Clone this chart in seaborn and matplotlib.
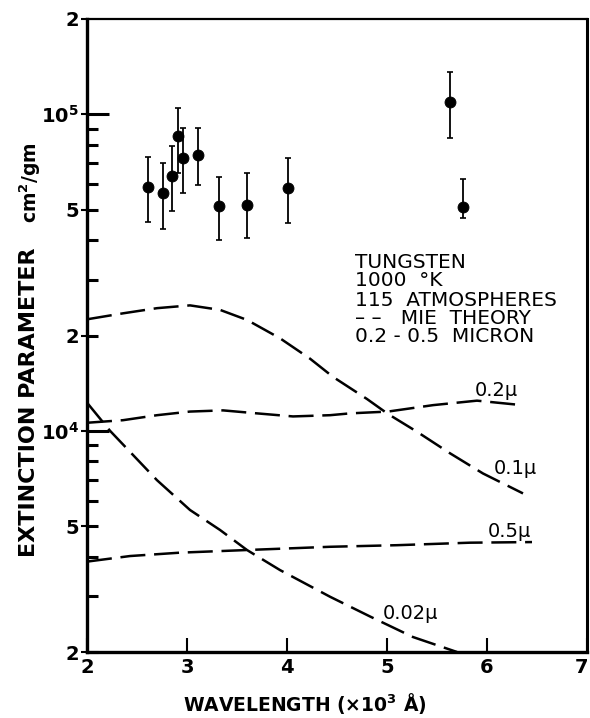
import matplotlib
matplotlib.use("Agg")
import matplotlib.pyplot as plt
import matplotlib.transforms as mtransforms
import seaborn as sns
import numpy as np
from matplotlib.ticker import FixedLocator, FixedFormatter, NullFormatter

# ---- data ----
wl_pts = [2.61, 2.76, 2.85, 2.91, 2.96, 3.11, 3.32, 3.60, 4.01, 5.63, 5.76]
ext_pts = [5.9e4, 5.62e4, 6.4e4, 8.56e4, 7.26e4, 7.43e4, 5.13e4, 5.17e4, 5.87e4, 1.09e5, 5.08e4]
err_hi = [7.35e4, 7.03e4, 7.96e4, 1.05e5, 9.07e4, 9.07e4, 6.35e4, 6.5e4, 7.3e4, 1.36e5, 6.23e4]
err_lo = [4.56e4, 4.33e4, 4.95e4, 6.5e4, 5.65e4, 5.97e4, 4.01e4, 4.07e4, 4.54e4, 8.4e4, 4.69e4]

wl_01 = [2.0, 2.36, 2.70, 3.03, 3.33, 3.60, 3.93, 4.23, 4.46, 4.80, 5.01, 5.30, 5.63, 5.96, 6.36]
ext_01 = [2.25e4, 2.35e4, 2.44e4, 2.49e4, 2.41e4, 2.24e4, 1.96e4, 1.69e4, 1.48e4, 1.26e4,
          1.13e4, 9.93e3, 8.49e3, 7.33e3, 6.34e3]

wl_02 = [2.0, 2.36, 2.70, 3.03, 3.36, 3.70, 4.06, 4.43, 4.63, 5.01, 5.46, 5.90, 6.35]
ext_02 = [1.06e4, 1.08e4, 1.12e4, 1.15e4, 1.16e4, 1.135e4, 1.11e4, 1.12e4, 1.135e4, 1.15e4,
          1.205e4, 1.245e4, 1.205e4]

wl_05 = [2.0, 2.43, 2.93, 3.60, 4.43, 5.10, 5.83, 6.45]
ext_05 = [3.86e3, 4.02e3, 4.12e3, 4.20e3, 4.30e3, 4.35e3, 4.43e3, 4.45e3]

wl_002 = [2.0, 2.23, 2.70, 3.03, 3.33, 3.60, 3.93, 4.43, 4.83, 5.26, 5.70]
ext_002 = [1.227e4, 1.0e4, 6.98e3, 5.62e3, 4.86e3, 4.20e3, 3.63e3, 2.99e3, 2.59e3, 2.23e3, 2.00e3]

x_ticks = [2, 3, 4, 5, 6, 7]
x_ticklabels = ["2", "3", "4", "5", "6", "7"]
y_major = [2e3, 5e3, 1e4, 2e4, 5e4, 1e5, 2e5]
y_majorlabels = ["2", "5", r"10$^{4}$", "2", "5", r"10$^{5}$", "2"]
y_inner = [2e3, 3e3, 4e3, 5e3, 6e3, 7e3, 8e3, 9e3, 2e4, 3e4, 4e4, 5e4, 6e4, 7e4, 8e4, 9e4]
y_decade = [1e4, 1e5]

legend_lines = ["TUNGSTEN", "1000  °K", "115  ATMOSPHERES", "– –   MIE  THEORY", "0.2 - 0.5  MICRON"]

# ---- styling ----
sns.set_theme(style="ticks")
plt.rcParams['font.family'] = ['DejaVu Sans']
plt.rcParams['mathtext.default'] = 'bf'

fig = plt.figure(figsize=(5.9, 7.18), dpi=100)
ax = fig.add_axes([87/590, 1 - 652/718, 500/590, 633/718])

dash = (0, (10, 3.5))
for wl, ext in [(wl_01, ext_01), (wl_02, ext_02), (wl_05, ext_05), (wl_002, ext_002)]:
    sns.lineplot(x=wl, y=ext, ax=ax, color="black", linewidth=1.8, linestyle=dash,
                 sort=False, estimator=None)

yerr = [np.array(ext_pts) - np.array(err_lo), np.array(err_hi) - np.array(ext_pts)]
ax.errorbar(wl_pts, ext_pts, yerr=yerr, fmt="none", ecolor="black", elinewidth=1.3,
            capsize=2.5, capthick=1.2)
sns.scatterplot(x=wl_pts, y=ext_pts, ax=ax, color="black", s=62, edgecolor="black", zorder=5)

ax.set_yscale("log")
ax.set_xlim(2, 7)
ax.set_ylim(2e3, 2e5)

ax.xaxis.set_major_locator(FixedLocator(x_ticks))
ax.xaxis.set_major_formatter(FixedFormatter(x_ticklabels))
ax.xaxis.set_minor_locator(FixedLocator([]))
ax.tick_params(axis="x", which="major", direction="in", length=10, width=1.5,
               labelsize=14, pad=4, colors="black")

ax.yaxis.set_major_locator(FixedLocator(y_major))
ax.yaxis.set_major_formatter(FixedFormatter(y_majorlabels))
ax.yaxis.set_minor_locator(FixedLocator(y_inner))
ax.yaxis.set_minor_formatter(NullFormatter())
ax.yaxis.remove_overlapping_locs = False
ax.tick_params(axis="y", which="major", direction="out", length=4, width=1.5,
               labelsize=14, pad=2, colors="black")
ax.tick_params(axis="y", which="minor", direction="in", length=8, width=2.2, colors="black")

sec = ax.secondary_yaxis("left")
sec.yaxis.set_major_locator(FixedLocator(y_decade))
sec.yaxis.set_major_formatter(NullFormatter())
sec.yaxis.set_minor_locator(FixedLocator([]))
sec.tick_params(axis="y", which="major", direction="in", length=16, width=2.2, colors="black")
sec.spines["left"].set_visible(False)

for lab in ax.get_xticklabels() + ax.get_yticklabels():
    lab.set_fontweight("bold")
# nudge last x label ("7") so it stays inside the figure, as in the reference
last = ax.get_xticklabels()[-1]
last.set_transform(last.get_transform() + mtransforms.ScaledTranslation(-6/100, 0, fig.dpi_scale_trans))

ax.spines["left"].set_linewidth(2.4)
ax.spines["bottom"].set_linewidth(2.4)
ax.spines["right"].set_linewidth(2.2)
ax.spines["top"].set_linewidth(1.6)
for s in ax.spines.values():
    s.set_color("black")

# curve labels
lab_kw = dict(fontsize=14, ha="center", va="center", color="black")
ax.text(6.09, 1.34e4, "0.2μ", **lab_kw)
ax.text(6.28, 7.62e3, "0.1μ", **lab_kw)
ax.text(6.22, 4.79e3, "0.5μ", **lab_kw)
ax.text(5.24, 2.64e3, "0.02μ", **lab_kw)

# annotation block
ys = [262, 280, 300, 318, 337]
for t, yy in zip(legend_lines, ys):
    fig.text(355/590, 1 - yy/718, t, fontsize=14.5, ha="left", va="center", color="black")

# axis labels
fig.text(305/590, 1 - 703/718, r"WAVELENGTH (×10$^{3}$ Å)", fontsize=13.5, fontweight="bold",
         ha="center", va="center", color="black")
fig.text(29/590, 1 - 402/718, "EXTINCTION PARAMETER", fontsize=16, fontweight="bold",
         rotation=90, ha="center", va="center", color="black")
fig.text(30/590, 1 - 183/718, r"cm$^{2}$/gm", fontsize=13.5, fontweight="bold",
         rotation=90, ha="center", va="center", color="black")

fig.savefig("out.png", dpi=100)
